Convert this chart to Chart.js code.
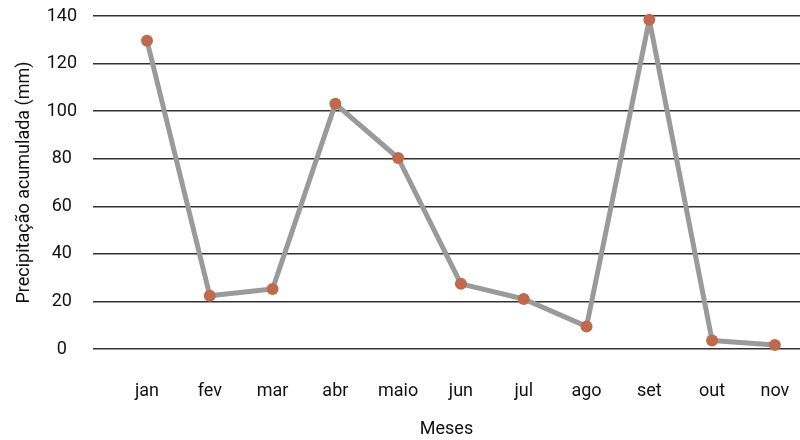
<!DOCTYPE html>
<html>
<head>
<meta charset="utf-8">
<script src="https://cdn.jsdelivr.net/npm/chart.js@4"></script>
<style>
    html, body { margin: 0; padding: 0; background: #fff; }
    #wrap { width: 800px; height: 440px; }
</style>
</head>
<body>
<div id="wrap"><canvas id="rainChart" width="800" height="440"></canvas></div>
<script>
// Precipitação acumulada por mês
const MONTHS = ['jan', 'fev', 'mar', 'abr', 'maio', 'jun', 'jul', 'ago', 'set', 'out', 'nov'];
const RAIN_MM = [129.6, 22.4, 25.2, 103.1, 80.3, 27.4, 21.0, 9.5, 138.4, 3.6, 1.7];
const Y_TICKS = [0, 20, 40, 60, 80, 100, 120, 140];

const FONT = 'Roboto, "Noto Sans", sans-serif';
const TEXT_COLOR = '#111';

Chart.defaults.font.family = FONT;
Chart.defaults.color = TEXT_COLOR;

const points = MONTHS.map((m, i) => ({ x: i, y: RAIN_MM[i] }));

new Chart(document.getElementById('rainChart'), {
    type: 'line',
    data: {
        datasets: [{
            label: 'Precipitação',
            data: points,
            borderColor: '#9a9a9a',
            borderWidth: 5,
            borderJoinStyle: 'round',
            tension: 0,
            pointRadius: 6,
            pointBackgroundColor: '#bf6a4f',
            pointBorderColor: '#bf6a4f',
            pointBorderWidth: 0,
            clip: false
        }]
    },
    options: {
        responsive: false,
        animation: false,
        layout: { autoPadding: false, padding: { top: 16, right: 0, bottom: 0, left: 10 } },
        plugins: { legend: { display: false }, tooltip: { enabled: false } },
        scales: {
            x: {
                type: 'linear',
                min: -0.86,
                max: 10.4,
                afterBuildTicks: s => { s.ticks = MONTHS.map((m, i) => ({ value: i })); },
                afterFit: s => {
                    s.height = 91;
                    s.paddingLeft = 0;
                    s.paddingRight = 0;
                },
                grid: { display: false },
                border: { display: false },
                ticks: {
                    padding: 24,
                    maxRotation: 0,
                    autoSkip: false,
                    font: { size: 18 },
                    callback: v => MONTHS[v]
                },
                title: {
                    display: true,
                    text: 'Meses',
                    font: { size: 18 },
                    padding: { top: 4, bottom: 0 }
                }
            },
            y: {
                min: 0,
                max: 140,
                afterBuildTicks: s => { s.ticks = Y_TICKS.map(v => ({ value: v })); },
                afterFit: s => {
                    s.width = 83;
                    s.paddingTop = 0;
                    s.paddingBottom = 0;
                },
                grid: { color: '#333', lineWidth: 1.4, drawTicks: false },
                border: { display: false },
                ticks: {
                    padding: 16,
                    crossAlign: 'center',
                    font: { size: 18 }
                },
                title: {
                    display: true,
                    text: 'Precipitação acumulada (mm)',
                    font: { size: 18 },
                    padding: { top: 4, bottom: 4 }
                }
            }
        }
    }
});
</script>
</body>
</html>
